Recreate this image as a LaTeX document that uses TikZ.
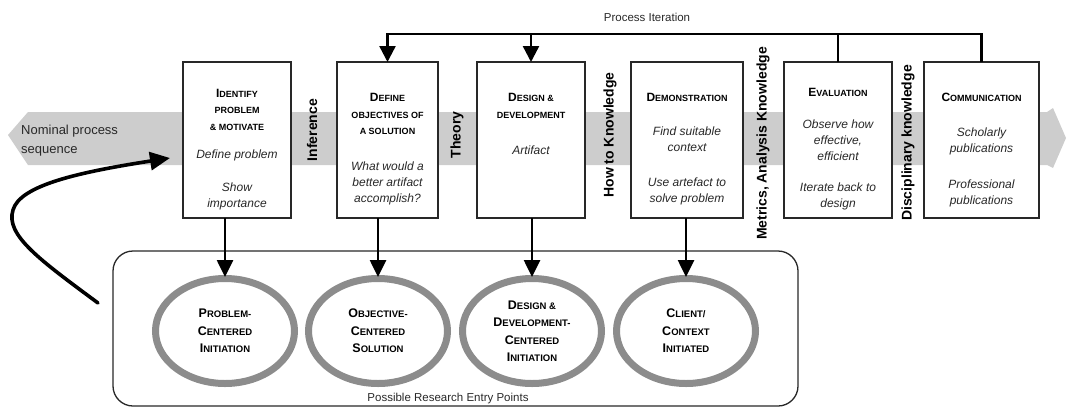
\documentclass[tikz,border=0pt]{standalone}
\usepackage{fontspec}
\setmainfont{Liberation Sans}
\usetikzlibrary{arrows.meta,shapes.geometric}
\definecolor{bandgray}{RGB}{205,205,205}
\definecolor{ringgray}{RGB}{140,140,140}
\definecolor{inkgray}{RGB}{40,40,40}
% small-caps look: a large initial followed by smaller capitals
\newcommand\tcap[2]{{\fontsize{12}{16.5}\selectfont #1}{\fontsize{9}{16.5}\selectfont #2}}
\newcommand\ecap[2]{{\fontsize{12.5}{17.5}\selectfont #1}{\fontsize{9.5}{17.5}\selectfont #2}}
\begin{document}
\begin{tikzpicture}[x=1pt,y=-1pt,
  stagebox/.style={draw=inkgray, line width=1.4pt, fill=white, inner sep=0pt, outer sep=0pt},
  stagetitle/.style={font=\bfseries\fontsize{9}{16.5}\selectfont, align=center, inner sep=0pt},
  stagenote/.style={font=\itshape\fontsize{12}{16}\selectfont, text=inkgray, align=center, inner sep=0pt},
  knowledge/.style={font=\bfseries\fontsize{14}{16}\selectfont, rotate=90, inner sep=0pt},
  entry/.style={ellipse, draw=ringgray, line width=7pt, fill=white, minimum width=139pt, minimum height=105pt,
    inner sep=0pt, outer sep=1.5pt, align=center, font=\bfseries\fontsize{9.5}{17.5}\selectfont},
  feed/.style={line width=2.6pt, -{Triangle[length=17pt,width=16pt]}},
  iter/.style={line width=2.4pt},
  caption/.style={font=\fontsize{11.5}{12}\selectfont, text=inkgray, inner sep=0pt},
]
\useasboundingbox (0,0) rectangle (1068,408);

% nominal process band
\fill[bandgray] (28,112) -- (1047,112) -- (1053,108) -- (1066,138) -- (1053,168) -- (1047,165)
  -- (28,165) -- (8,135) -- cycle;
\node[anchor=west, align=left, font=\fontsize{13}{19}\selectfont, text=inkgray, inner sep=0pt]
  (nominal) at (21,141) {Nominal process\\sequence};

% process stages
\node[stagebox, minimum width=108pt, minimum height=156pt] (b1) at (237,140) {};
\node[stagebox, minimum width=101pt, minimum height=156pt] (b2) at (387.5,140) {};
\node[stagebox, minimum width=108pt, minimum height=156pt] (b3) at (531,140) {};
\node[stagebox, minimum width=112pt, minimum height=156pt] (b4) at (687,140) {};
\node[stagebox, minimum width=108pt, minimum height=156pt] (b5) at (838,140) {};
\node[stagebox, minimum width=115pt, minimum height=156pt] (b6) at (981.5,140) {};

\node[stagetitle] (h1) at (237,109.5) {\tcap{I}{DENTIFY}\\PROBLEM\\\& MOTIVATE};
\node[stagetitle] (h2) at (387.5,114) {\tcap{D}{EFINE}\\OBJECTIVES OF\\A SOLUTION};
\node[stagetitle] (h3) at (531,106) {\tcap{D}{ESIGN \&}\\DEVELOPMENT};
\node[stagetitle] (h4) at (687,97) {\tcap{D}{EMONSTRATION}};
\node[stagetitle] (h5) at (838,92) {\tcap{E}{VALUATION}};
\node[stagetitle] (h6) at (981.5,97) {\tcap{C}{OMMUNICATION}};

\node[stagenote] (n1a) at (237,155) {Define problem};
\node[stagenote] (n1b) at (237,196) {Show\\importance};
\node[stagenote] (n2a) at (387.5,183.5) {What would a\\better artifact\\accomplish?};
\node[stagenote] (n3a) at (531,150) {Artifact};
\node[stagenote] (n4a) at (687,139.5) {Find suitable\\context};
\node[stagenote] (n4b) at (687,191.5) {Use artefact to\\solve problem};
\node[stagenote] (n5a) at (838,140) {Observe how\\effective,\\efficient};
\node[stagenote] (n5b) at (838,196) {Iterate back to\\design};
\node[stagenote] (n6a) at (981.5,141.5) {Scholarly\\publications};
\node[stagenote] (n6b) at (981.5,193.5) {Professional\\publications};

% knowledge between stages
\node[knowledge] (k1) at (312,130) {Inference};
\node[knowledge] (k2) at (457,135) {Theory};
\node[knowledge] (k3) at (610,135) {How to Knowledge};
\node[knowledge] (k4) at (763,143.5) {Metrics, Analysis Knowledge};
\node[knowledge] (k5) at (908,143) {Disciplinary knowledge};

% process iteration loop
\coordinate (loop) at (0,34);
\draw[iter, -{Triangle[length=16pt,width=16pt]}] (b6.north) |- (b2.north |- loop) -- (b2.north);
\draw[iter] (b5.north) -- (b5.north |- loop);
\draw[iter, -{Triangle[length=16pt,width=16pt]}] (b3.north |- loop) -- (b3.north);
\node[caption] (iterlabel) at (647,17) {Process Iteration};

% research entry points
\node[draw=inkgray, line width=1.3pt, rounded corners=20pt, minimum width=685pt, minimum height=155pt,
  inner sep=0pt] (pool) at (455.5,328.5) {};
\node[caption] (poollabel) at (448,399) {Possible Research Entry Points};

\node[entry] (e1) at (225,331) {\ecap{P}{ROBLEM-}\\\ecap{C}{ENTERED}\\\ecap{I}{NITIATION}};
\node[entry] (e2) at (378,331) {\ecap{O}{BJECTIVE-}\\\ecap{C}{ENTERED}\\\ecap{S}{OLUTION}};
\node[entry] (e3) at (532,331) {\ecap{D}{ESIGN \&}\\\ecap{D}{EVELOPMENT-}\\\ecap{C}{ENTERED}\\\ecap{I}{NITIATION}};
\node[entry] (e4) at (686,331) {\ecap{C}{LIENT/}\\\ecap{C}{ONTEXT}\\\ecap{I}{NITIATED}};

\draw[feed] (b1.south -| e1.north) -- (e1.north);
\draw[feed] (b2.south -| e2.north) -- (e2.north);
\draw[feed] (b3.south -| e3.north) -- (e3.north);
\draw[feed] (b4.south -| e4.north) -- (e4.north);

% entry into the process from outside
\coordinate (loopstart) at (98,303);
\coordinate (looptip) at (170,158);
\draw[line width=3.6pt, line cap=round, -{Triangle[length=20pt,width=18pt]}]
  (loopstart) .. controls (40,260) and (5,235) .. (13,210) .. controls (20,185) and (80,172) .. (looptip);
\end{tikzpicture}
\end{document}
